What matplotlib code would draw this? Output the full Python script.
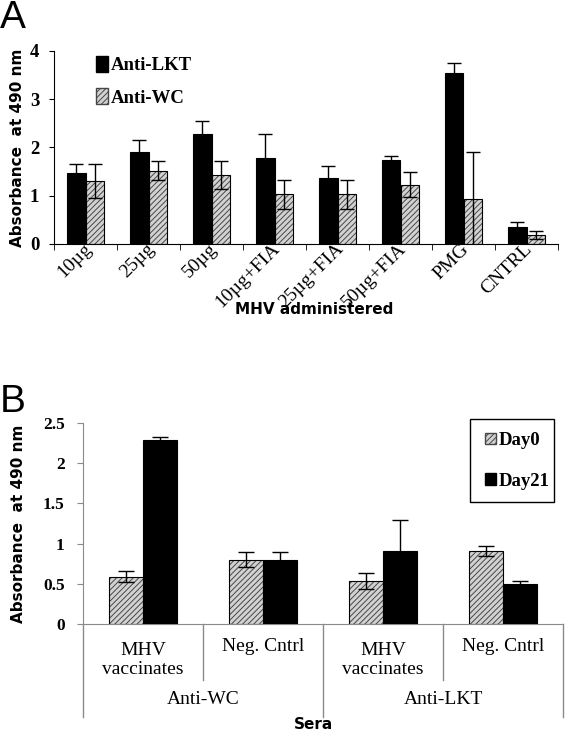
import numpy as np
import matplotlib
matplotlib.use("Agg")
import matplotlib.pyplot as plt
from matplotlib.patches import Patch, Rectangle
from matplotlib.transforms import blended_transform_factory

# ---- panel A data ----
doses = ["10µg", "25µg", "50µg", "10µg+FIA", "25µg+FIA", "50µg+FIA", "PMG", "CNTRL"]
lkt_mean = [1.47, 1.91, 2.27, 1.79, 1.36, 1.75, 3.55, 0.35]
lkt_err = [0.18, 0.24, 0.27, 0.49, 0.26, 0.07, 0.20, 0.10]
wc_mean = [1.30, 1.52, 1.43, 1.03, 1.03, 1.23, 0.94, 0.18]
wc_err = [0.35, 0.20, 0.29, 0.30, 0.30, 0.26, 0.97, 0.08]

# ---- panel B data ----
groups = ["MHV\nvaccinates", "Neg. Cntrl", "MHV\nvaccinates", "Neg. Cntrl"]
sera = ["Anti-WC", "Anti-LKT"]
day0_mean = [0.59, 0.80, 0.535, 0.91]
day0_err = [0.07, 0.09, 0.105, 0.06]
day21_mean = [2.29, 0.79, 0.91, 0.50]
day21_err = [0.03, 0.10, 0.38, 0.04]

SERIF = "Liberation Serif"
SANS = "DejaVu Sans"
HATCH_FC, HATCH_EC = "#d2d2d2", "#474747"
plt.rcParams["hatch.linewidth"] = 0.7


def hatched_bars(ax, x, h, w):
    ax.bar(x, h, w, color=HATCH_FC, edgecolor=HATCH_EC, hatch="//////", lw=0, zorder=2)
    ax.bar(x, h, w, fill=False, edgecolor="black", lw=0.8, zorder=3)


def black_bars(ax, x, h, w):
    ax.bar(x, h, w, color="black", edgecolor="black", lw=0.8, zorder=3)


def errs(ax, x, h, e, cap):
    ax.errorbar(x, h, yerr=e, fmt="none", ecolor="black", elinewidth=1.0,
                capsize=cap, capthick=1.0, zorder=4)


W, H = 566, 732
fig = plt.figure(figsize=(W / 100, H / 100), dpi=100)

# ================= panel A =================
axA = fig.add_axes([54 / W, 1 - 244 / H, 504 / W, 193 / H])
x = np.arange(len(doses))
w = 0.3
black_bars(axA, x - w / 2, lkt_mean, w)
hatched_bars(axA, x + w / 2, wc_mean, w)
errs(axA, x - w / 2, lkt_mean, lkt_err, 5)
errs(axA, x + w / 2, wc_mean, wc_err, 5)

axA.set_xlim(-0.5, len(doses) - 0.5)
axA.set_ylim(0, 4)
axA.set_yticks([0, 1, 2, 3, 4])
axA.set_yticklabels(["0", "1", "2", "3", "4"], fontfamily=SERIF, fontsize=13.5,
                    fontweight="bold")
axA.set_xticks(x + 0.1)
axA.set_xticklabels(doses, rotation=45, ha="right", va="baseline",
                    rotation_mode="anchor", fontfamily=SERIF, fontsize=14)
axA.tick_params(axis="x", which="major", length=0, pad=4)
axA.set_xticks(np.arange(len(doses) + 1) - 0.5, minor=True)
axA.tick_params(axis="x", which="minor", length=4, direction="out", color="black")
axA.tick_params(axis="y", length=3.6, direction="out", color="black", pad=7)
for s in ["top", "right"]:
    axA.spines[s].set_visible(False)
axA.set_ylabel("Absorbance  at 490 nm", fontfamily=SANS, fontweight="bold",
               fontsize=11)
axA.yaxis.set_label_coords(-0.058, 0.5)
axA.legend(handles=[Patch(facecolor="black", edgecolor="black"),
                    Patch(facecolor=HATCH_FC, edgecolor=HATCH_EC, hatch="//////")],
           labels=["Anti-LKT", "Anti-WC"], loc="upper left",
           bbox_to_anchor=(83 / W, 1 - 43 / H), bbox_transform=fig.transFigure,
           frameon=False, borderpad=0.2,
           prop={"family": SERIF, "weight": "bold", "size": 13.5},
           handlelength=0.65, handleheight=0.9, handletextpad=0.15,
           labelspacing=0.75)
fig.text(314 / W, 1 - 309 / H, "MHV administered", ha="center", va="center",
         fontfamily=SANS, fontweight="bold", fontsize=11)
fig.text(0.0, 1 - 18 / H, "A", ha="left", va="center",
         fontfamily="Liberation Sans", fontsize=28)

# ================= panel B =================
axB = fig.add_axes([83 / W, 1 - 624 / H, 480 / W, 201 / H])
xb = np.arange(len(groups))
wb = 0.28
hatched_bars(axB, xb - wb / 2, day0_mean, wb)
black_bars(axB, xb + wb / 2, day21_mean, wb)
errs(axB, xb - wb / 2, day0_mean, day0_err, 5.5)
errs(axB, xb + wb / 2, day21_mean, day21_err, 5.5)

axB.set_xlim(-0.5, len(groups) - 0.5)
axB.set_ylim(0, 2.5)
axB.set_yticks([0, 0.5, 1, 1.5, 2, 2.5])
axB.set_yticklabels(["0", "0.5", "1", "1.5", "2", "2.5"], fontfamily=SERIF,
                    fontsize=12.5, fontweight="bold")
axB.set_xticks([])
gray = "#8a8a8a"
axB.tick_params(axis="y", length=4.3, direction="out", color=gray, pad=9)
for s in ["top", "right"]:
    axB.spines[s].set_visible(False)
for s in ["left", "bottom"]:
    axB.spines[s].set_color(gray)
axB.set_ylabel("Absorbance  at 490 nm", fontfamily=SANS, fontweight="bold",
               fontsize=11)
axB.yaxis.set_label_coords(-0.119, 0.5)

trans = blended_transform_factory(axB.transData, axB.transAxes)
for i in range(len(groups) + 1):
    depth = -0.463 if i % 2 == 0 else -0.279
    axB.plot([i - 0.5, i - 0.5], [0, depth], color=gray, lw=1.0,
             transform=trans, clip_on=False)
for i, g in enumerate(groups):
    yc = -0.177 if "\n" in g else -0.114
    axB.text(i, yc, g, transform=trans, ha="center", va="center",
             fontfamily=SERIF, fontsize=14, linespacing=1.15)
for j, s in enumerate(sera):
    axB.text(2 * j + 0.5, -0.378, s, transform=trans, ha="center", va="center",
             fontfamily=SERIF, fontsize=14)
axB.text(0.48, -0.502, "Sera", transform=axB.transAxes, ha="center", va="center",
         fontfamily=SANS, fontweight="bold", fontsize=11)

axB.legend(handles=[Patch(facecolor=HATCH_FC, edgecolor=HATCH_EC, hatch="//////"),
                    Patch(facecolor="black", edgecolor="black")],
           labels=["Day0", "Day21"], loc="center left",
           bbox_to_anchor=(476 / W, 1 - 461 / H),
           bbox_transform=fig.transFigure, frameon=False, borderpad=0,
           prop={"family": SERIF, "weight": "bold", "size": 13.5},
           handlelength=0.55, handleheight=0.55, handletextpad=0.15,
           labelspacing=1.25)
fig.add_artist(Rectangle((470 / W, 1 - 502 / H), 84 / W, 83 / H,
                         transform=fig.transFigure, fill=False,
                         edgecolor="black", lw=1.0))
fig.text(0.0, 1 - 402 / H, "B", ha="left", va="center",
         fontfamily="Liberation Sans", fontsize=28)

fig.savefig("out.png", dpi=100)
